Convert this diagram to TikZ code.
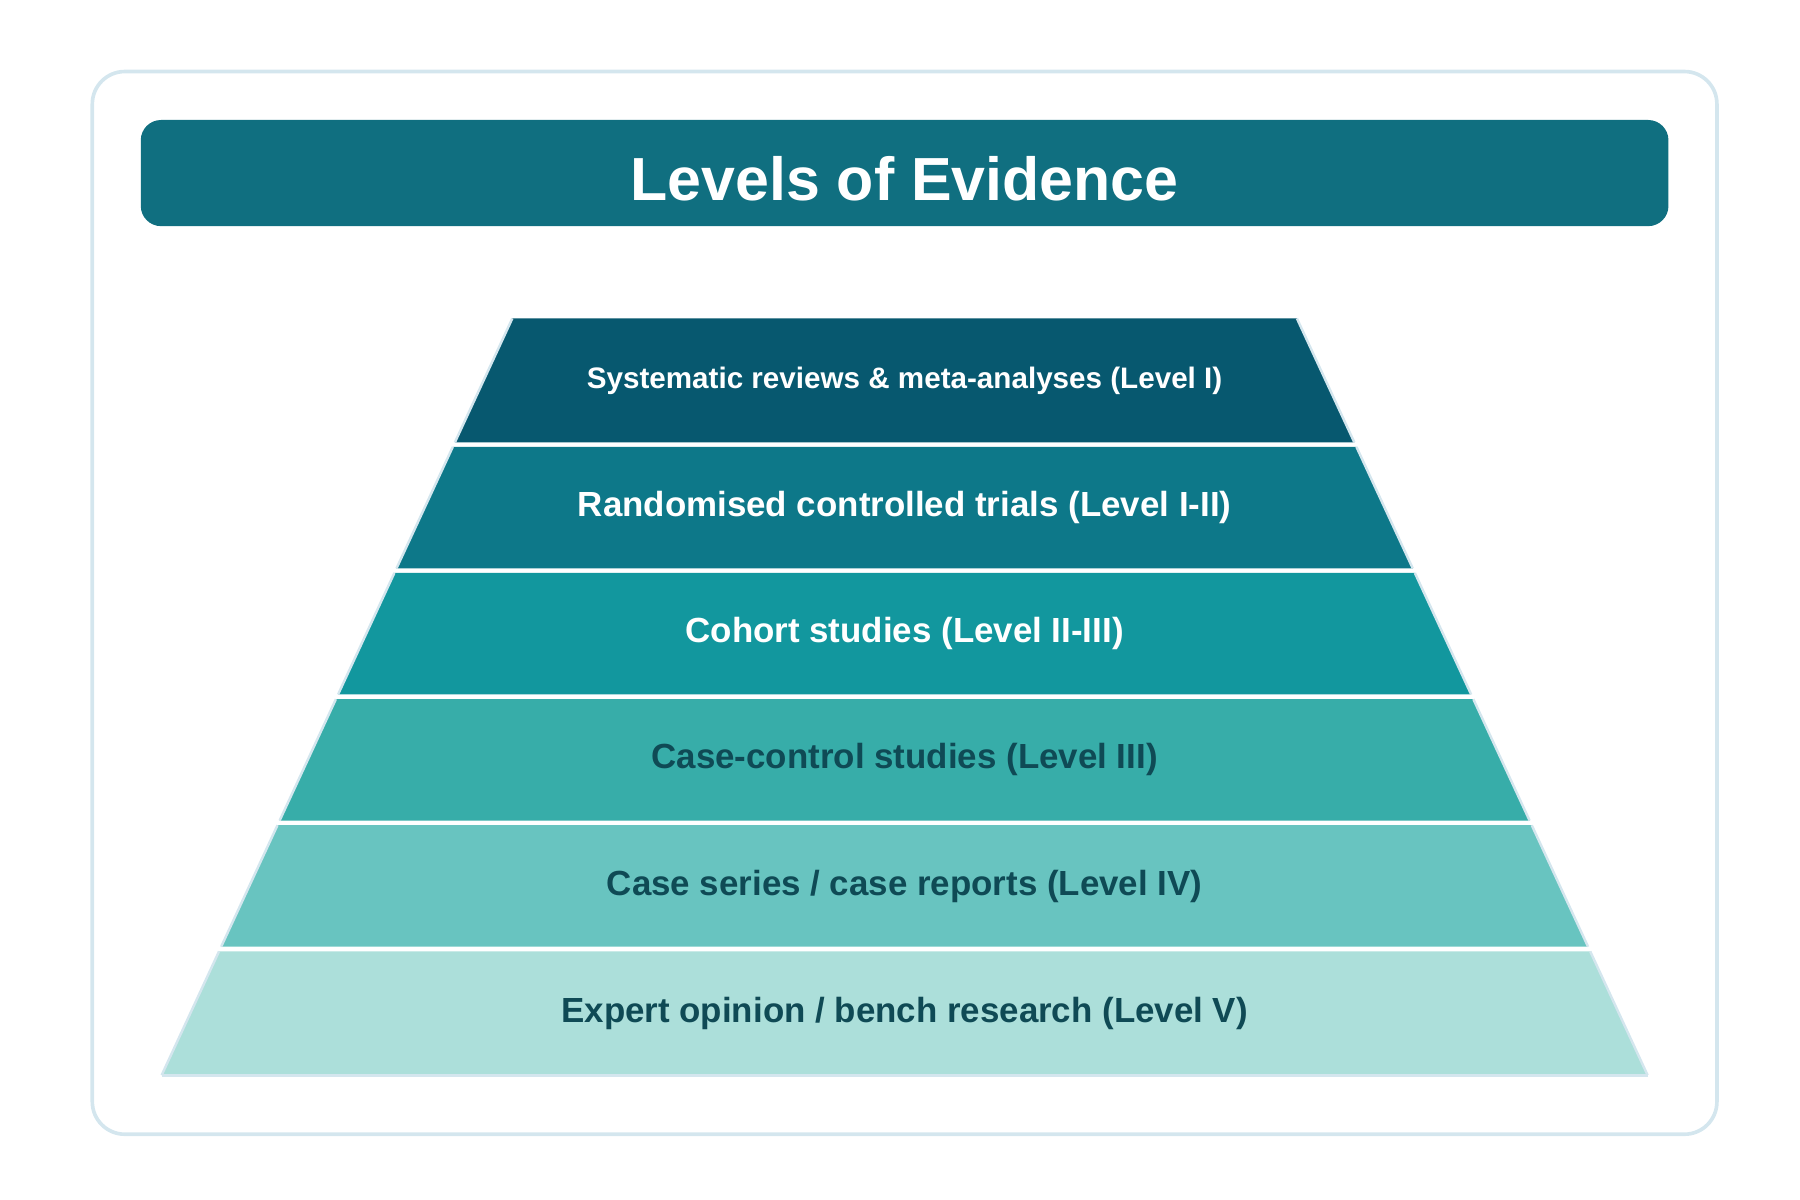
\documentclass[tikz,border=0pt]{standalone}
\usepackage{fontspec}
\setmainfont{Liberation Sans}
\definecolor{frame}{HTML}{D4E6EE}
\definecolor{titlebg}{HTML}{106F80}
\definecolor{darktext}{HTML}{0F4A55}
\definecolor{lvA}{HTML}{07586F}
\definecolor{lvB}{HTML}{0D7889}
\definecolor{lvC}{HTML}{12979E}
\definecolor{lvD}{HTML}{37ADA9}
\definecolor{lvE}{HTML}{68C4C0}
\definecolor{lvF}{HTML}{ACDFDA}
\tikzset{
  level/.style={draw=frame, line width=0.8pt},
  label/.style={font=\bfseries\fontsize{8.6}{10}\selectfont},
}
\begin{document}
\begin{tikzpicture}[x=0.01cm, y=-0.01cm]
\useasboundingbox (0,0) rectangle (1560,1040);

% outer frame and title
\draw[frame, line width=0.9pt, rounded corners=8pt] (80,62) rectangle (1488,983);
\fill[titlebg, rounded corners=5pt] (122,104) rectangle (1446,196);
\node[text=white, font=\bfseries\fontsize{15}{18}\selectfont] (title) at (784,155) {Levels of Evidence};

% pyramid, top to bottom
\foreach \i/\col/\txt/\lab/\fs in {
  0/lvA/white/{Systematic reviews \& meta-analyses (Level I)}/7.3,
  1/lvB/white/{Randomised controlled trials (Level I-II)}/8.6,
  2/lvC/white/{Cohort studies (Level II-III)}/8.6,
  3/lvD/darktext/{Case-control studies (Level III)}/8.6,
  4/lvE/darktext/{Case series / case reports (Level IV)}/8.6,
  5/lvF/darktext/{Expert opinion / bench research (Level V)}/8.6}{
  \pgfmathsetmacro{\ya}{276+\i*109.3+(\i>0?2:0)}
  \pgfmathsetmacro{\yb}{276+(\i+1)*109.3-(\i<5?2:0)}
  \pgfmathsetmacro{\wa}{340+(\ya-276)/656*304}
  \pgfmathsetmacro{\wb}{340+(\yb-276)/656*304}
  \fill[\col] (784-\wa,\ya) -- (784+\wa,\ya) -- (784+\wb,\yb) -- (784-\wb,\yb) -- cycle;
  \draw[frame, line width=0.6pt] (784-\wa,\ya) -- (784-\wb,\yb) (784+\wa,\ya) -- (784+\wb,\yb);
  \node[text=\txt, font=\bfseries\fontsize{\fs}{10}\selectfont] (lv\i) at (784,{(\ya+\yb)/2}) {\lab};
}
\draw[frame, line width=0.6pt] (140,932) -- (1428,932);

\end{tikzpicture}
\end{document}
